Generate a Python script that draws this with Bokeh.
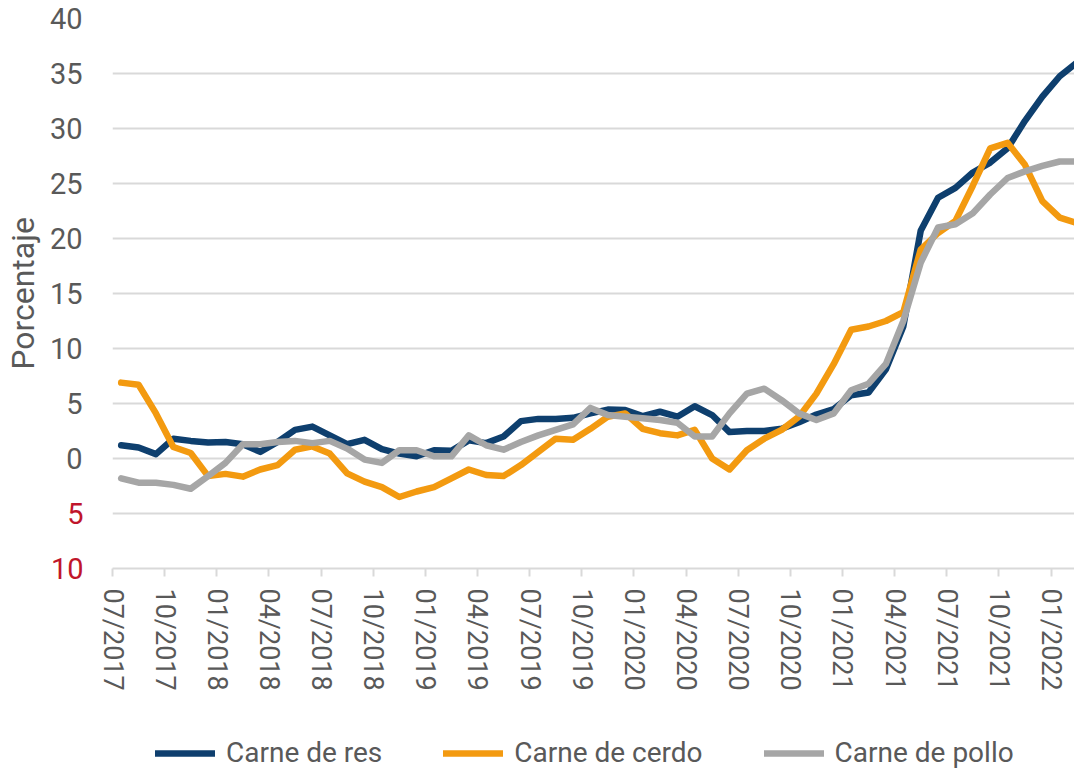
from bokeh.plotting import figure
from bokeh.layouts import column
from bokeh.models import FixedTicker, Legend, LegendItem, LinearAxis, Range1d
from bokeh.embed import file_html
from bokeh.resources import INLINE

# Monthly series, 07/2017 .. 02/2022 (percent)
carne_res = [1.2, 1.0, 0.4, 1.8, 1.6, 1.45, 1.5, 1.3, 0.6, 1.5, 2.6, 2.9, 2.1, 1.3, 1.7, 0.85,
             0.45, 0.2, 0.75, 0.7, 1.65, 1.4, 2.0, 3.4, 3.6, 3.6, 3.7, 4.1, 4.45, 4.4, 3.85, 4.25,
             3.8, 4.75, 3.95, 2.4, 2.5, 2.5, 2.7, 3.3, 4.0, 4.5, 5.75, 6.0, 8.1, 12.0, 20.7, 23.7,
             24.6, 26.0, 26.9, 28.2, 30.7, 32.9, 34.75, 36.0]
carne_cerdo = [6.9, 6.7, 4.1, 1.05, 0.5, -1.6, -1.4, -1.65, -1.0, -0.6, 0.8, 1.1, 0.45, -1.35, -2.1, -2.6,
               -3.5, -3.0, -2.6, -1.8, -1.0, -1.5, -1.6, -0.6, 0.6, 1.8, 1.7, 2.7, 3.8, 4.1, 2.7, 2.3,
               2.1, 2.6, 0.0, -1.0, 0.75, 1.8, 2.6, 3.8, 5.9, 8.6, 11.7, 12.0, 12.5, 13.3, 19.0, 20.5,
               21.6, 24.8, 28.2, 28.7, 26.7, 23.4, 21.9, 21.4]
carne_pollo = [-1.8, -2.2, -2.2, -2.4, -2.75, -1.6, -0.4, 1.3, 1.3, 1.5, 1.6, 1.4, 1.6, 0.9, -0.1, -0.4,
               0.75, 0.75, 0.2, 0.2, 2.1, 1.2, 0.8, 1.5, 2.1, 2.6, 3.1, 4.6, 3.95, 3.8, 3.65, 3.5,
               3.25, 2.0, 2.0, 4.1, 5.9, 6.35, 5.3, 4.1, 3.5, 4.1, 6.2, 6.8, 8.6, 12.5, 17.8, 21.0,
               21.3, 22.3, 24.0, 25.5, 26.1, 26.6, 27.0, 27.0]

tick_labels = ["07/2017", "10/2017", "01/2018", "04/2018", "07/2018", "10/2018", "01/2019",
               "04/2019", "07/2019", "10/2019", "01/2020", "04/2020", "07/2020", "10/2020",
               "01/2021", "04/2021", "07/2021", "10/2021", "01/2022"]
y_ticks_pos = [0, 5, 10, 15, 20, 25, 30, 35, 40]
y_ticks_neg = [-5, -10]
series_names = ["Carne de res", "Carne de cerdo", "Carne de pollo"]
series_values = [carne_res, carne_cerdo, carne_pollo]
colors = ["#0E3F6E", "#F39A10", "#A6A6A6"]

FONT = "Roboto"
TXT = "#595959"
RED = "#C0152B"

x = [i + 0.5 for i in range(len(carne_res))]
tick_pos = [3 * i for i in range(len(tick_labels))]

p = figure(frame_width=962, frame_height=550, x_range=Range1d(0, 55.35), y_range=Range1d(-10, 40),
           output_backend="svg", toolbar_location=None,
           min_border_left=105, min_border_top=18, min_border_right=0, min_border_bottom=0)
p.outline_line_color = None
p.background_fill_color = "white"
p.border_fill_color = "white"

for vals, col in zip(series_values, colors):
    p.line(x, vals, line_color=col, line_width=6.5, line_join="round", line_cap="round")

# grid
p.xgrid.visible = False
p.ygrid.ticker = FixedTicker(ticks=y_ticks_neg + y_ticks_pos)
p.ygrid.grid_line_color = "#D9D9D9"
p.ygrid.grid_line_width = 2

# inner y axis: negative ticks shown in red, without sign
ya = p.yaxis[0]
ya.ticker = FixedTicker(ticks=y_ticks_neg)
ya.major_label_overrides = {v: str(abs(v)) for v in y_ticks_neg}
ya.axis_line_color = None
ya.major_tick_line_color = None
ya.minor_tick_line_color = None
ya.major_label_text_font = FONT
ya.major_label_text_font_size = "29px"
ya.major_label_text_color = RED
ya.major_label_standoff = 23

# outer y axis: positive ticks in grey, pulled back onto the same column
yb = LinearAxis(ticker=FixedTicker(ticks=y_ticks_pos))
yb.axis_line_color = None
yb.major_tick_line_color = None
yb.minor_tick_line_color = None
yb.major_label_text_font = FONT
yb.major_label_text_font_size = "29px"
yb.major_label_text_color = TXT
yb.major_label_standoff = -41
yb.axis_label = "Porcentaje"
yb.axis_label_text_font = FONT
yb.axis_label_text_font_size = "32px"
yb.axis_label_text_font_style = "normal"
yb.axis_label_text_color = TXT
yb.axis_label_standoff = 5
p.add_layout(yb, "left")

# x axis
xa = p.xaxis[0]
xa.ticker = FixedTicker(ticks=tick_pos)
xa.major_label_overrides = {t: l for t, l in zip(tick_pos, tick_labels)}
xa.major_label_orientation = "vertical"
xa.axis_line_color = "#D9D9D9"
xa.axis_line_width = 2
xa.major_tick_line_color = "#D9D9D9"
xa.major_tick_line_width = 2
xa.major_tick_out = 8
xa.major_tick_in = 0
xa.minor_tick_line_color = None
xa.major_label_standoff = 12
xa.major_label_text_font = FONT
xa.major_label_text_font_size = "27px"
xa.major_label_text_color = TXT

# legend strip underneath the chart (its lines sit outside the strip's visible range)
leg = figure(width=1075, height=78, x_range=Range1d(0, 55.35), y_range=Range1d(100, 101),
             output_backend="svg", toolbar_location=None,
             x_axis_location=None, y_axis_location=None, min_border=0)
leg.outline_line_color = None
leg.xgrid.visible = False
leg.ygrid.visible = False
leg_renderers = [leg.line(x, vals, line_color=col, line_width=6.5, line_cap="round")
                 for vals, col in zip(series_values, colors)]

legend = Legend(items=[LegendItem(label=n, renderers=[r]) for n, r in zip(series_names, leg_renderers)],
                orientation="horizontal", location=(43, 2))
legend.label_text_font = FONT
legend.label_text_font_size = "28px"
legend.label_text_color = TXT
legend.glyph_width = 60
legend.label_standoff = 11
legend.spacing = 61
legend.padding = 0
legend.margin = 0
legend.border_line_color = None
legend.background_fill_alpha = 0
leg.add_layout(legend, "center")

layout = column(p, leg, spacing=0)
open("out.html", "w").write(file_html(layout, INLINE))
